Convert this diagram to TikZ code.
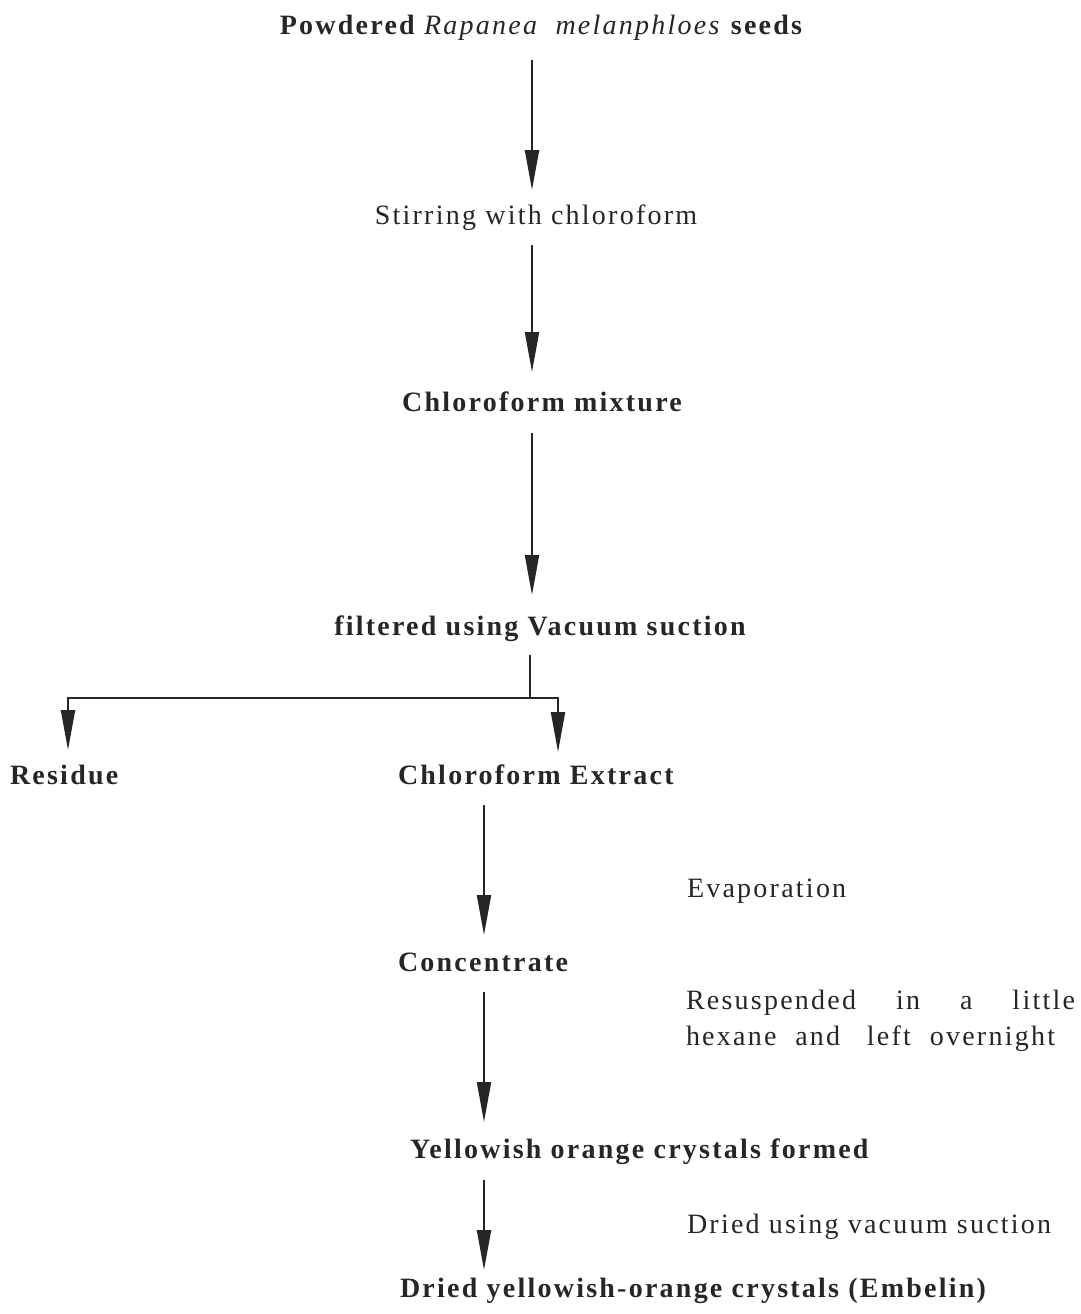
\documentclass[tikz,border=0pt]{standalone}
\usepackage{fontspec}
\setmainfont{Liberation Serif}[LetterSpace=8]
\usetikzlibrary{arrows.meta}
\definecolor{ink}{HTML}{262626}
\begin{document}
\begin{tikzpicture}[x=1pt,y=-1pt,
  every node/.style={inner sep=0pt, outer sep=0pt, text height=19pt, text depth=6pt, text=ink, font=\fontsize{28}{34}\selectfont},
  bl/.style={font=\fontsize{28}{34}\selectfont\bfseries},
  arr/.style={draw=ink, line width=2pt, -{Triangle[length=40pt,width=14pt]}},
  ln/.style={draw=ink, line width=2pt}]
\useasboundingbox (0,0) rectangle (1080,1314);
\node[bl, anchor=base] (title) at (541,35) {Powdered \textit{\mdseries Rapanea\ \ melanphloes} seeds};
\node[anchor=base] (stir) at (536,224) {Stirring with chloroform};
\node[bl, anchor=base] (mix) at (542,411) {Chloroform mixture};
\node[bl, anchor=base] (filt) at (540,635) {filtered using Vacuum suction};
\node[bl, anchor=base west] (res) at (10,784) {Residue};
\node[bl, anchor=base west] (ext) at (398,784) {Chloroform Extract};
\node[anchor=base west] (evap) at (687,897) {Evaporation};
\node[bl, anchor=base west] (conc) at (398,971) {Concentrate};
\node[anchor=base west] (resus1) at (686,1009) {\makebox[389pt][s]{Resuspended in a little}};
\node[anchor=base west] (resus2) at (686,1045) {\makebox[369pt][s]{hexane and\hspace{8pt} left overnight}};
\node[bl, anchor=base west] (yell) at (410,1158) {Yellowish orange crystals formed};
\node[anchor=base west] (dry) at (687,1233) {Dried using vacuum suction};
\node[bl, anchor=base west] (final) at (400,1297) {Dried yellowish-orange crystals (Embelin)};
\coordinate (ca) at (532,0);
\coordinate (cb) at (484,0);
\coordinate (split) at (530,698);
\coordinate (cl) at (68,0);
\coordinate (cr) at (558,0);
\draw[arr, shorten <=19pt, shorten >=15pt] (title.south -| ca) -- (stir.north -| ca);
\draw[arr, shorten <=15pt, shorten >=20pt] (stir.south -| ca) -- (mix.north -| ca);
\draw[arr, shorten <=16pt, shorten >=21pt] (mix.south -| ca) -- (filt.north -| ca);
\draw[ln, shorten <=14pt] (filt.south -| split) -- (split);
\draw[arr, shorten >=15pt] (split) -| (res.north -| cl);
\draw[arr, shorten >=13pt] (split) -| (ext.north -| cr);
\draw[arr, shorten <=15pt, shorten >=17pt] (ext.south -| cb) -- (conc.north -| cb);
\draw[arr, shorten <=15pt, shorten >=17pt] (conc.south -| cb) -- (yell.north -| cb);
\draw[arr, shorten <=16pt, shorten >=8pt] (yell.south -| cb) -- (final.north -| cb);
\end{tikzpicture}
\end{document}
